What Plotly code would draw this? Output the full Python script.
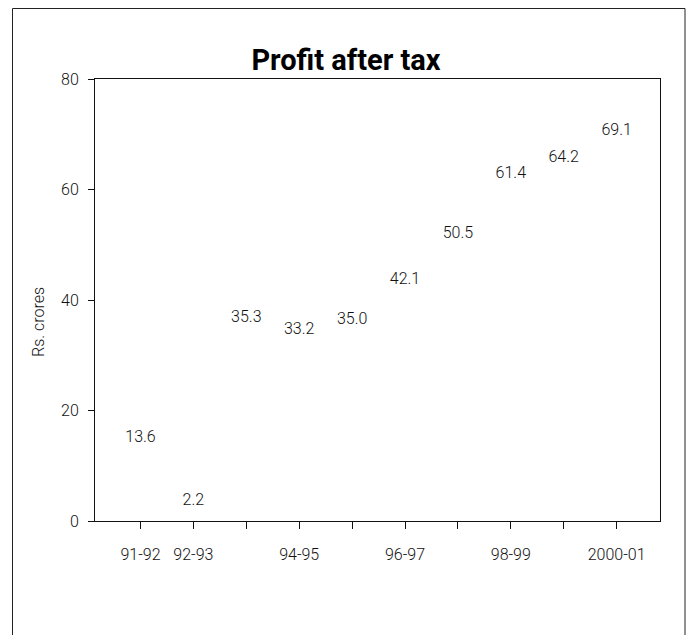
import plotly.graph_objects as go

years = ["91-92", "92-93", "93-94", "94-95", "95-96", "96-97", "97-98", "98-99", "99-00", "2000-01"]
profit = [13.6, 2.2, 35.3, 33.2, 35.0, 42.1, 50.5, 61.4, 64.2, 69.1]
shown_labels = ["91-92", "92-93", "", "94-95", "", "96-97", "", "98-99", "", "2000-01"]
y_ticks = [0, 20, 40, 60, 80]

FONT = "Roboto, Liberation Sans, sans-serif"
INK = "#111111"

idx = list(range(len(years)))

# page body has an 8px margin; work in page coordinates and convert
OFF = 8
W, H = 694 - OFF, 635 - OFF
L, R, T, B = 95 - OFF, 660 - OFF, 79 - OFF, 521 - OFF

fig = go.Figure()
fig.add_trace(go.Scatter(
    x=idx, y=profit, mode="text",
    text=[f"{v:.1f}" for v in profit],
    textposition="top center",
    textfont=dict(family=FONT, size=16, color=INK, weight=300),
    hoverinfo="skip", showlegend=False, cliponaxis=False,
))

fig.update_layout(
    width=W, height=H,
    margin=dict(l=L, r=W - R, t=T, b=H - B),
    paper_bgcolor="white", plot_bgcolor="white",
    showlegend=False,
    title=dict(text="<b>Profit after tax</b>", x=(346 - OFF) / W, xanchor="center",
               y=1 - (60 - OFF) / H, yanchor="middle", yref="container",
               font=dict(family=FONT, size=29, color="#000000")),
    xaxis=dict(
        range=[-0.86, 9.82], tickmode="array", tickvals=idx, ticktext=shown_labels,
        ticks="outside", ticklen=7, tickwidth=1, tickcolor=INK,
        showline=True, linecolor=INK, linewidth=1, mirror=True,
        showgrid=False, zeroline=False, ticklabelstandoff=12,
        tickfont=dict(family=FONT, size=16, color=INK, weight=300),
    ),
    yaxis=dict(
        range=[0, 80], tickmode="array", tickvals=y_ticks,
        ticks="outside", ticklen=6, tickwidth=1, tickcolor=INK,
        showline=True, linecolor=INK, linewidth=1, mirror=True,
        showgrid=False, zeroline=False, ticklabelstandoff=6,
        tickfont=dict(family=FONT, size=16, color=INK, weight=300),
    ),
)

pw, ph = R - L, B - T
def px(x):
    return (x - OFF - L) / pw
def py(y):
    return (B - (y - OFF)) / ph

# outer frame (left, top, right)
for x0, y0, x1, y1 in [(12.5, 8.5, 12.5, 650), (12.5, 8.5, 685, 8.5), (685, 8.5, 685, 650)]:
    fig.add_shape(type="line", xref="paper", yref="paper",
                  x0=px(x0), y0=py(y0), x1=px(x1), y1=py(y1),
                  line=dict(color="#222222", width=1))

fig.add_annotation(text="Rs. crores", textangle=-90, xref="paper", yref="paper",
                   x=px(38), y=py(322), showarrow=False, xanchor="center", yanchor="middle",
                   font=dict(family=FONT, size=16, color=INK, weight=300))

fig.write_html("out.html")
